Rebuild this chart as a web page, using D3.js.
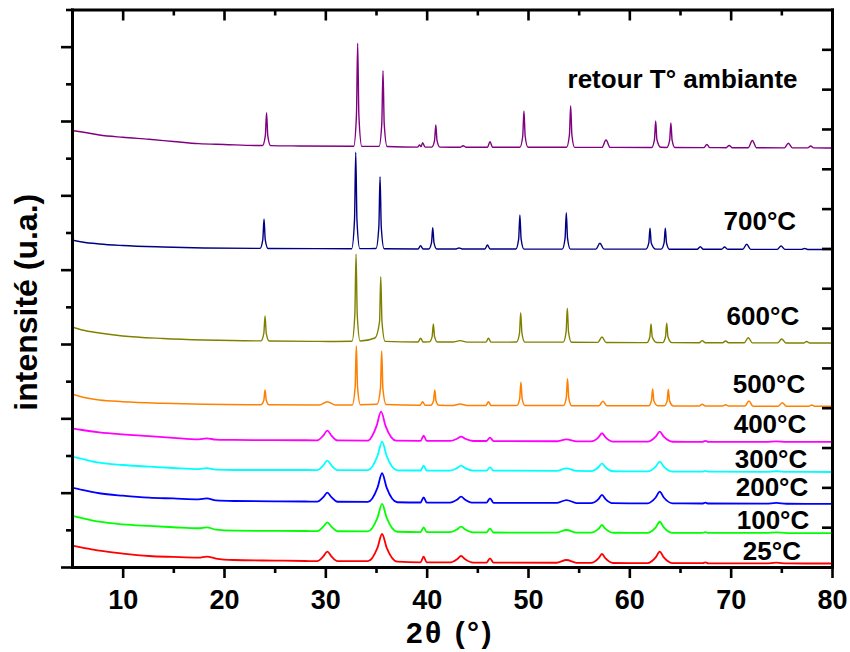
<!DOCTYPE html>
<html>
<head>
<meta charset="utf-8">
<script src="https://cdn.jsdelivr.net/npm/d3@7"></script>
<style>
  body { margin: 0; background: #fff; }
  svg { display: block; }
  text { font-family: "Liberation Sans", Arial, sans-serif; font-weight: bold; fill: #000; }
</style>
</head>
<body>
<svg id="chart" width="850" height="652"></svg>
<script>
// Diffractograms recorded during heating, offset vertically (2θ in degrees, intensity in counts)
const seriesLabels = ["25°C", "100°C", "200°C", "300°C", "400°C", "500°C", "600°C", "700°C", "retour T° ambiante"];

const xTickValues = [10, 20, 30, 40, 50, 60, 70, 80];
const xTickLabels = ["10", "20", "30", "40", "50", "60", "70", "80"];

const pattern25 = [[5,287],[6,262],[7.7,219],[10,180],[12.6,148],[15,135],[17.5,125],[18.3,139],[19.2,114],[21,94],[25,86],[28,81],[29.2,78],[29.8,142],[30.2,206],[30.6,142],[31.2,78],[34.2,78],[35.15,261],[35.6,444],[36.05,261],[37.1,72],[39.4,63],[39.7,139],[40,62],[42.3,61],[43,105],[43.4,148],[43.8,105],[44.6,60],[45.9,59],[46.25,117],[46.6,59],[52.8,57],[53.8,94],[54.8,56],[56.2,55],[56.95,115],[57.3,175],[57.65,115],[58.4,54],[61.8,53],[62.6,130],[63,206],[63.4,130],[64.3,52],[67.2,51],[67.5,62],[67.8,50],[73.5,49],[74.5,58],[75.5,48],[80,47]];

const pattern100 = [[5,690],[6,659],[7.7,609],[10,574],[12.6,552],[15,535],[17.5,521],[18.3,534],[19.2,503],[21,488],[25,485],[28,484],[29.2,482],[29.8,542],[30.2,601],[30.6,542],[31.2,481],[34.2,479],[35.15,664],[35.6,848],[36.05,664],[37.1,474],[39.4,470],[39.7,534],[40,469],[42.3,468],[43,505],[43.4,542],[43.8,505],[44.6,466],[45.9,465],[46.25,515],[46.6,464],[52.8,463],[53.8,498],[54.8,462],[56.2,462],[56.95,513],[57.3,565],[57.65,513],[58.4,461],[61.8,460],[62.6,534],[63,609],[63.4,534],[64.3,459],[67.2,459],[67.5,470],[67.8,458],[73.5,458],[74.5,466],[75.5,457],[80,457]];

const pattern200 = [[5,1067],[6,1036],[7.7,992],[10,959],[12.6,932],[15,922],[17.5,911],[18.3,924],[19.2,895],[21,888],[25,884],[28,881],[29.2,879],[29.8,940],[30.2,1000],[30.6,940],[31.2,878],[34.2,875],[35.15,1068],[35.6,1261],[36.05,1068],[37.1,871],[39.4,868],[39.7,938],[40,868],[42.3,866],[43,906],[43.4,946],[43.8,906],[44.6,865],[45.9,865],[46.25,924],[46.6,864],[52.8,862],[53.8,901],[54.8,860],[56.2,859],[56.95,914],[57.3,969],[57.65,914],[58.4,858],[61.8,857],[62.6,935],[63,1013],[63.4,935],[64.3,856],[67.2,854],[67.5,866],[67.8,854],[73.5,852],[74.5,862],[75.5,851],[80,850]];

const pattern300 = [[5,1484],[6,1453],[7.7,1403],[10,1372],[12.6,1349],[15,1332],[17.5,1318],[18.3,1330],[19.2,1309],[21,1305],[25,1305],[28,1305],[29.2,1304],[29.8,1367],[30.2,1430],[30.6,1367],[31.2,1303],[34.2,1302],[35.15,1494],[35.6,1686],[36.05,1494],[37.1,1300],[39.4,1298],[39.7,1363],[40,1298],[42.3,1297],[43,1330],[43.4,1363],[43.8,1330],[44.6,1296],[45.9,1296],[46.25,1341],[46.6,1296],[52.8,1293],[53.8,1328],[54.8,1292],[56.2,1290],[56.95,1342],[57.3,1395],[57.65,1342],[58.4,1288],[61.8,1286],[62.6,1351],[63,1417],[63.4,1351],[64.3,1284],[67.2,1282],[67.5,1294],[67.8,1282],[73.5,1280],[74.5,1288],[75.5,1279],[80,1278]];

const pattern400 = [[5,1866],[6,1843],[7.7,1812],[10,1785],[12.6,1762],[15,1738],[17.5,1718],[18.3,1730],[19.2,1714],[21,1709],[25,1707],[28,1705],[29.2,1704],[29.8,1769],[30.2,1834],[30.6,1769],[31.2,1703],[34.2,1701],[35.05,1895],[35.5,2089],[35.95,1895],[37,1699],[39.4,1697],[39.7,1767],[40,1697],[42.3,1696],[43,1725],[43.4,1753],[43.8,1725],[44.6,1695],[45.9,1695],[46.25,1740],[46.6,1694],[52.8,1692],[53.8,1718],[54.8,1690],[56.2,1689],[56.95,1744],[57.3,1799],[57.65,1744],[58.4,1687],[61.8,1686],[62.6,1753],[63,1820],[63.4,1753],[64.3,1685],[67.2,1684],[67.5,1696],[67.8,1684],[73.5,1683],[74.5,1691],[75.5,1682],[80,1682]];

const pattern500 = [[5,2328],[6,2287],[7.7,2247],[10,2224],[14,2202],[18,2189],[23.65,2183],[23.93,2242],[24.05,2381],[24.17,2242],[24.45,2182],[29.4,2180],[30.2,2224],[31,2180],[32.66,2181],[32.94,2418],[33.06,2973],[33.18,2418],[33.46,2184],[35.1,2190],[35.44,2401],[35.56,2906],[35.68,2401],[36,2185],[39.35,2175],[39.6,2224],[39.85,2175],[40.4,2175],[40.68,2237],[40.8,2381],[40.92,2237],[41.2,2175],[42.6,2174],[43.3,2193],[44,2174],[45.85,2173],[46.1,2224],[46.35,2173],[48.9,2172],[49.18,2266],[49.3,2485],[49.42,2266],[49.7,2172],[53.5,2171],[53.78,2279],[53.9,2533],[54.02,2279],[54.3,2170],[57,2170],[57.4,2229],[57.8,2169],[61.9,2168],[62.18,2236],[62.3,2395],[62.42,2236],[62.8,2170],[63.45,2168],[63.73,2235],[63.85,2391],[63.97,2235],[64.35,2167],[66.9,2166],[67.2,2188],[67.5,2166],[69.2,2165],[69.5,2183],[69.8,2165],[71.4,2165],[71.8,2233],[72.2,2164],[74.7,2164],[75.1,2211],[75.5,2163],[77.7,2163],[78,2180],[78.3,2162],[80,2162]];

const pattern600 = [[5,3229],[6,3189],[7.7,3148],[10,3108],[14,3074],[18,3054],[23.65,3042],[23.93,3142],[24.05,3377],[24.17,3142],[24.45,3041],[29.4,3035],[31,3034],[32.63,3036],[32.91,3389],[33.03,4211],[33.15,3389],[33.43,3040],[34.9,3081],[35.35,3303],[35.47,3906],[35.59,3303],[35.9,3035],[39.15,3027],[39.4,3077],[39.65,3027],[40.26,3028],[40.54,3100],[40.66,3269],[40.78,3100],[41.06,3027],[42.6,3026],[43.3,3045],[44,3025],[45.85,3025],[46.1,3077],[46.35,3025],[48.88,3026],[49.16,3145],[49.28,3421],[49.4,3145],[49.68,3025],[53.48,3025],[53.76,3162],[53.88,3481],[54,3162],[54.28,3023],[56.9,3022],[57.3,3094],[57.7,3021],[61.74,3019],[62.02,3094],[62.14,3269],[62.26,3094],[62.7,3020],[63.29,3019],[63.57,3097],[63.69,3279],[63.81,3097],[64.19,3018],[66.9,3017],[67.2,3045],[67.5,3017],[69.2,3016],[69.5,3041],[69.8,3016],[71.34,3016],[71.74,3085],[72.14,3015],[74.64,3015],[75.04,3068],[75.44,3014],[77.2,3014],[77.5,3034],[77.8,3014],[80,3014]];

const pattern700 = [[5,4400],[6,4373],[7.7,4346],[10,4325],[14,4305],[18,4292],[23.55,4286],[23.83,4405],[23.95,4682],[24.07,4405],[24.35,4285],[32.6,4282],[32.88,4671],[33,5579],[33.12,4671],[33.4,4283],[35,4284],[35.28,4573],[35.4,5251],[35.52,4573],[35.8,4282],[39.15,4278],[39.4,4323],[39.65,4278],[40.2,4278],[40.48,4364],[40.6,4565],[40.72,4364],[41,4278],[42.9,4278],[43.2,4292],[43.5,4278],[45.75,4278],[46,4332],[46.25,4278],[48.8,4278],[49.08,4415],[49.2,4736],[49.32,4415],[49.6,4277],[53.38,4277],[53.66,4424],[53.78,4767],[53.9,4424],[54.18,4277],[56.7,4277],[57.1,4355],[57.5,4276],[61.64,4276],[61.92,4360],[62.04,4557],[62.16,4360],[62.6,4277],[63.15,4276],[63.43,4360],[63.55,4557],[63.67,4360],[63.95,4275],[66.7,4275],[67,4309],[67.3,4275],[69.1,4274],[69.4,4305],[69.7,4274],[71.2,4274],[71.58,4342],[71.98,4273],[74.6,4273],[74.97,4319],[75.35,4273],[77,4273],[77.3,4285],[77.6,4272],[80,4272]];

const patternCooled = [[5,5873],[6,5852],[7.7,5812],[10,5781],[12.6,5754],[15,5725],[17.5,5695],[20,5684],[23.8,5670],[24.08,5803],[24.2,6112],[24.32,5803],[24.6,5669],[27.4,5664],[32.8,5660],[33.07,6076],[33.19,7046],[33.31,6076],[33.6,5659],[35.3,5658],[35.57,5964],[35.69,6677],[35.81,5964],[36.1,5656],[39.1,5648],[39.3,5678],[39.45,5655],[39.6,5709],[39.85,5648],[40.5,5648],[40.78,5739],[40.9,5947],[41.02,5739],[41.3,5648],[43.3,5647],[43.6,5668],[43.9,5647],[46,5647],[46.25,5722],[46.5,5647],[49.2,5647],[49.48,5795],[49.6,6135],[49.72,5795],[50,5646],[53.8,5646],[54.09,5815],[54.21,6206],[54.33,5815],[54.6,5645],[57.3,5645],[57.7,5745],[58.1,5645],[62.2,5644],[62.48,5751],[62.6,6000],[62.72,5751],[63.1,5646],[63.7,5644],[63.98,5743],[64.1,5974],[64.22,5743],[64.5,5643],[67.35,5642],[67.65,5684],[67.95,5642],[69.55,5641],[69.85,5671],[70.15,5641],[71.74,5640],[72.14,5738],[72.54,5640],[75.3,5639],[75.69,5700],[76.1,5639],[77.6,5638],[77.9,5664],[78.2,5638],[80,5637]];

const patterns = [pattern25, pattern100, pattern200, pattern300, pattern400, pattern500, pattern600, pattern700, patternCooled];

// Appearance of each trace
const traceColors = ["#ff0000", "#00ff00", "#0000ff", "#00ffff", "#ff00ff", "#ff8000", "#808000", "#000080", "#800080"];
const traceWidths = [1.8, 1.8, 1.8, 1.8, 1.8, 1.5, 1.4, 1.4, 1.4];
// Label anchors in data units [2θ, counts]
const labelAnchors = [[71.2, 94], [70.6, 511], [70.5, 949], [70.4, 1332], [70.3, 1803], [70.2, 2341], [69.6, 3256], [69.3, 4534], [53.9, 6444]];

const svg = d3.select("#chart");
const plotLeft = 72, plotRight = 832, plotTop = 9.5, plotBottom = 567;

const x = d3.scaleLinear().domain([5, 80]).range([plotLeft, plotRight]);
const y = d3.scaleLinear().domain([0, 7500]).range([plotBottom, plotTop]);
const yRight = d3.scaleLinear().domain([0, 14]).range([plotBottom, plotTop]);

svg.append("defs").append("clipPath").attr("id", "plot-clip")
  .append("rect").attr("x", plotLeft).attr("y", plotTop)
  .attr("width", plotRight - plotLeft).attr("height", plotBottom - plotTop);

const line = d3.line()
  .x(d => x(d[0]))
  .y(d => y(d[1]))
  .curve(d3.curveMonotoneX);

const traces = svg.append("g").attr("clip-path", "url(#plot-clip)");
patterns.forEach((p, i) => {
  traces.append("path")
    .datum(p)
    .attr("fill", "none")
    .attr("stroke", traceColors[i])
    .attr("stroke-width", traceWidths[i])
    .attr("stroke-linejoin", "round")
    .attr("d", line);
});

// Axes
const steps = (a, b, s) => d3.range(a, b + s / 2, s);
function styleAxis(g, keepDomain) {
  g.selectAll(".tick line").attr("stroke", "#000").attr("stroke-width", 2.6);
  if (keepDomain) {
    g.select(".domain").attr("stroke", "#000").attr("stroke-width", 3).attr("stroke-linecap", "square");
  } else {
    g.select(".domain").remove();
  }
}

// bottom
svg.append("g").attr("transform", `translate(0,${plotBottom})`)
  .call(d3.axisBottom(x).tickValues(steps(15, 75, 10)).tickFormat("").tickSize(6).tickSizeOuter(0))
  .call(g => styleAxis(g, false));
const bottomAxis = svg.append("g").attr("transform", `translate(0,${plotBottom})`)
  .call(d3.axisBottom(x).tickValues(xTickValues).tickFormat((d, i) => xTickLabels[i]).tickSize(11).tickSizeOuter(0).tickPadding(11.5))
  .call(g => styleAxis(g, true));
bottomAxis.selectAll(".tick text")
  .attr("font-size", 27)
  .attr("font-family", "'Liberation Sans', Arial, sans-serif")
  .attr("font-weight", "bold")
  .attr("fill", "#000");

// top
svg.append("g").attr("transform", `translate(0,${plotTop})`)
  .call(d3.axisTop(x).tickValues(steps(15, 75, 10)).tickFormat("").tickSizeInner(-6).tickSizeOuter(0))
  .call(g => styleAxis(g, false));
svg.append("g").attr("transform", `translate(0,${plotTop})`)
  .call(d3.axisTop(x).tickValues(xTickValues).tickFormat("").tickSizeInner(-11).tickSizeOuter(0))
  .call(g => styleAxis(g, true));

// left
svg.append("g").attr("transform", `translate(${plotLeft},0)`)
  .call(d3.axisLeft(y).tickValues(steps(500, 7500, 1000)).tickFormat("").tickSize(6).tickSizeOuter(0))
  .call(g => styleAxis(g, false));
svg.append("g").attr("transform", `translate(${plotLeft},0)`)
  .call(d3.axisLeft(y).tickValues(steps(0, 7000, 1000)).tickFormat("").tickSize(11).tickSizeOuter(0))
  .call(g => styleAxis(g, true));

// right
svg.append("g").attr("transform", `translate(${plotRight},0)`)
  .call(d3.axisRight(yRight).tickValues(steps(1, 13, 1)).tickFormat("").tickSizeInner(-10).tickSizeOuter(0))
  .call(g => styleAxis(g, true));

// Axis titles
svg.append("text")
  .attr("x", (plotLeft + plotRight) / 2 - 2)
  .attr("y", 643)
  .attr("text-anchor", "middle")
  .attr("font-size", 30)
  .attr("letter-spacing", 2.5)
  .text("2θ (°)");

svg.append("text")
  .attr("transform", `translate(37,${(plotTop + plotBottom) / 2 + 14}) rotate(-90)`)
  .attr("text-anchor", "middle")
  .attr("font-size", 32)
  .text("intensité (u.a.)");

// Trace labels
svg.append("g").selectAll("text")
  .data(seriesLabels)
  .join("text")
  .attr("x", (d, i) => x(labelAnchors[i][0]))
  .attr("y", (d, i) => y(labelAnchors[i][1]))
  .attr("font-size", 26)
  .text(d => d);
</script>
</body>
</html>
